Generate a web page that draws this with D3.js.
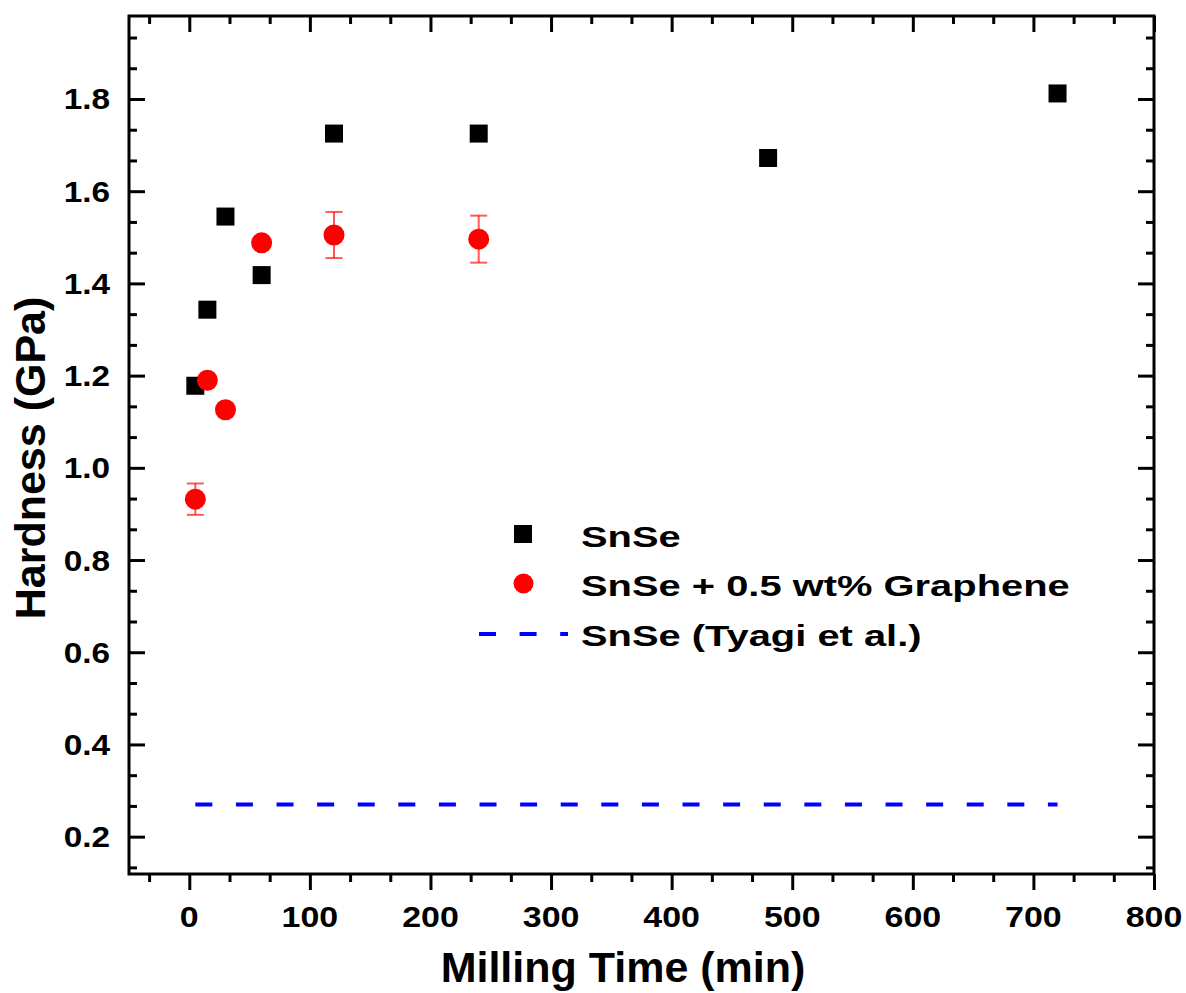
<!DOCTYPE html>
<html>
<head>
<meta charset="utf-8">
<script src="https://cdn.jsdelivr.net/npm/d3@7"></script>
<style>
  body { margin: 0; background: #fff; }
  text { font-family: "Liberation Sans", Arial, sans-serif; font-weight: bold; }
</style>
</head>
<body>
<div id="chart"></div>
<script>
// data
var timeSnSe = [5, 15, 30, 60, 120, 240, 480, 720];
var hardSnSe = [1.178, 1.343, 1.545, 1.418, 1.725, 1.725, 1.672, 1.812];

var timeGr = [5, 15, 30, 60, 120, 240];
var hardGr = [0.932, 1.19, 1.126, 1.488, 1.505, 1.496];
var errGr = [0.034, 0, 0, 0, 0.05, 0.051];

var tyagiRange = [5, 720];
var tyagiValue = 0.27;

var xMajor = [0, 100, 200, 300, 400, 500, 600, 700, 800];
var yMajor = [0.2, 0.4, 0.6, 0.8, 1.0, 1.2, 1.4, 1.6, 1.8];

var legendLabels = ['SnSe', 'SnSe + 0.5 wt% Graphene', 'SnSe (Tyagi et al.)'];

window.addEventListener('DOMContentLoaded', function() {
  var w = 1186, h = 993;
  var left = 129, right = 1154, top = 16, bottom = 874;

  var svg = d3.select('#chart').append('svg')
              .attr('width', w)
              .attr('height', h);

  var xScale = d3.scaleLinear().domain([-50, 800]).range([left, right]);
  var yScale = d3.scaleLinear().domain([0.119, 1.98]).range([bottom, top]);

  // minor ticks: two between each pair of majors
  var xMinor = [];
  xMajor.forEach(function(v) { xMinor.push(v - 100 / 3, v - 200 / 3); });
  xMinor = xMinor.filter(function(v) { return v > -50; });
  var yMinor = [];
  yMajor.concat([2.0]).forEach(function(v) { yMinor.push(v - 0.2 / 3, v - 0.4 / 3); });
  yMinor = yMinor.filter(function(v) { return v > 0.119 && v < 1.98; });

  function styleAxis(g) {
    g.select('.domain').remove();
    g.selectAll('line').attr('stroke', '#000').attr('stroke-width', 3);
  }

  // the picture's text is a little wider than the font, so stretch it
  function wideText(parent, x, y, str, size, sx, anchor) {
    return parent.append('text')
      .attr('transform', 'translate(' + x + ',' + y + ') scale(' + sx + ',1)')
      .attr('text-anchor', anchor)
      .attr('font-size', size)
      .attr('fill', '#000')
      .text(str);
  }

  // bottom axis, ticks outside
  svg.append('g').attr('transform', 'translate(0,' + bottom + ')')
     .call(d3.axisBottom(xScale).tickValues(xMajor).tickSize(16).tickFormat(''))
     .call(styleAxis);
  svg.append('g').attr('transform', 'translate(0,' + bottom + ')')
     .call(d3.axisBottom(xScale).tickValues(xMinor).tickSize(8).tickFormat(''))
     .call(styleAxis);
  xMajor.forEach(function(v) {
    wideText(svg, xScale(v), 927, d3.format('d')(v), 29, 1.17, 'middle');
  });

  // top axis, ticks inside
  svg.append('g').attr('transform', 'translate(0,' + top + ')')
     .call(d3.axisBottom(xScale).tickValues(xMajor).tickSize(16).tickFormat(''))
     .call(styleAxis);
  svg.append('g').attr('transform', 'translate(0,' + top + ')')
     .call(d3.axisBottom(xScale).tickValues(xMinor).tickSize(8).tickFormat(''))
     .call(styleAxis);

  // left axis, ticks inside
  svg.append('g').attr('transform', 'translate(' + left + ',0)')
     .call(d3.axisRight(yScale).tickValues(yMajor).tickSize(16).tickFormat(''))
     .call(styleAxis);
  svg.append('g').attr('transform', 'translate(' + left + ',0)')
     .call(d3.axisRight(yScale).tickValues(yMinor).tickSize(8).tickFormat(''))
     .call(styleAxis);
  yMajor.forEach(function(v) {
    wideText(svg, 110, yScale(v) + 10.5, d3.format('.1f')(v), 29, 1.15, 'end');
  });

  // right axis, ticks inside
  svg.append('g').attr('transform', 'translate(' + right + ',0)')
     .call(d3.axisLeft(yScale).tickValues(yMajor).tickSize(16).tickFormat(''))
     .call(styleAxis);
  svg.append('g').attr('transform', 'translate(' + right + ',0)')
     .call(d3.axisLeft(yScale).tickValues(yMinor).tickSize(8).tickFormat(''))
     .call(styleAxis);

  // frame
  svg.append('rect')
     .attr('x', left).attr('y', top)
     .attr('width', right - left).attr('height', bottom - top)
     .attr('fill', 'none').attr('stroke', '#000').attr('stroke-width', 3);

  // Tyagi reference line
  svg.append('line')
     .attr('x1', xScale(tyagiRange[0])).attr('x2', xScale(tyagiRange[1]))
     .attr('y1', yScale(tyagiValue)).attr('y2', yScale(tyagiValue))
     .attr('stroke', '#0000ff').attr('stroke-width', 4)
     .attr('stroke-dasharray', '17,23.6');

  // SnSe squares
  var sq = 18;
  svg.selectAll('.sq').data(timeSnSe).enter().append('rect')
     .attr('class', 'sq')
     .attr('x', function(d) { return xScale(d) - sq / 2; })
     .attr('y', function(d, i) { return yScale(hardSnSe[i]) - sq / 2; })
     .attr('width', sq).attr('height', sq)
     .attr('fill', '#000');

  // graphene error bars
  var eb = svg.append('g').attr('stroke', '#ff0000').attr('stroke-opacity', 0.65).attr('stroke-width', 2);
  timeGr.forEach(function(t, i) {
    if (!errGr[i]) return;
    var cx = xScale(t);
    var y1 = yScale(hardGr[i] + errGr[i]), y2 = yScale(hardGr[i] - errGr[i]);
    eb.append('line').attr('x1', cx).attr('x2', cx).attr('y1', y1).attr('y2', y2);
    eb.append('line').attr('x1', cx - 8.5).attr('x2', cx + 8.5).attr('y1', y1).attr('y2', y1);
    eb.append('line').attr('x1', cx - 8.5).attr('x2', cx + 8.5).attr('y1', y2).attr('y2', y2);
  });

  // graphene circles
  svg.selectAll('.dot').data(timeGr).enter().append('circle')
     .attr('class', 'dot')
     .attr('cx', function(d) { return xScale(d); })
     .attr('cy', function(d, i) { return yScale(hardGr[i]); })
     .attr('r', 10.5)
     .attr('fill', '#ff0000');

  // legend
  var lg = svg.append('g');
  lg.append('rect').attr('x', 514).attr('y', 525).attr('width', sq).attr('height', sq).attr('fill', '#000');
  lg.append('circle').attr('cx', 523.5).attr('cy', 583.5).attr('r', 10).attr('fill', '#ff0000');
  lg.append('line').attr('x1', 479).attr('x2', 568).attr('y1', 634).attr('y2', 634)
    .attr('stroke', '#0000ff').attr('stroke-width', 4).attr('stroke-dasharray', '17,23.6');
  var legendY = [546.5, 595.5, 646];
  legendLabels.forEach(function(d, i) {
    wideText(lg, 581, legendY[i], d, 30, 1.33, 'start');
  });

  // axis titles
  svg.append('text')
     .attr('x', 623).attr('y', 982)
     .attr('text-anchor', 'middle')
     .attr('font-size', 43)
     .text('Milling Time (min)');
  svg.append('text')
     .attr('transform', 'translate(45,458) rotate(-90)')
     .attr('text-anchor', 'middle')
     .attr('font-size', 43)
     .text('Hardness (GPa)');
});
</script>
</body>
</html>
